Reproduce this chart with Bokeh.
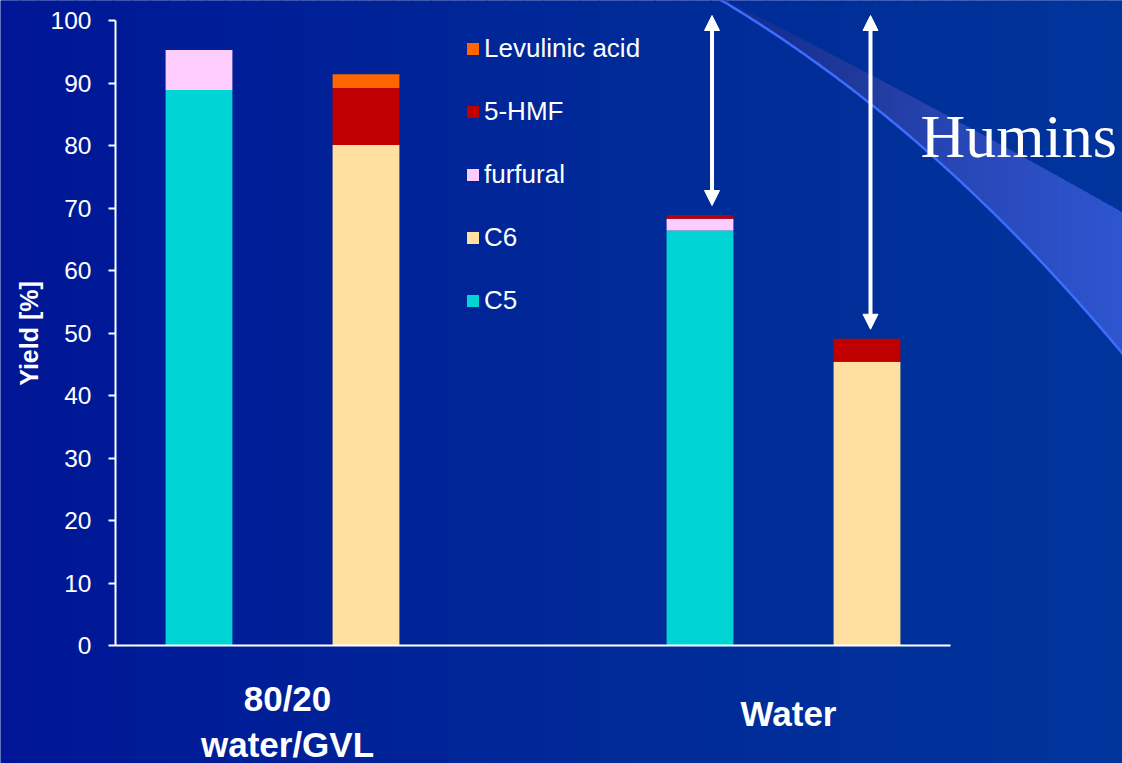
import numpy as np
from bokeh.plotting import figure
from bokeh.models import (Range1d, FixedTicker, Legend, LegendItem, Arrow,
                          NormalHead, ColumnDataSource)
from bokeh.core.properties import value
from bokeh.embed import file_html
from bokeh.resources import INLINE

# Yields [%] of each fraction; one bar per sugar fraction and solvent
bar_names = ["80/20 water/GVL C5", "80/20 water/GVL C6", "Water C5", "Water C6"]
bar_x = [0.5, 1.5, 3.5, 4.5]
c5 = [88.9, 0.0, 66.4, 0.0]
c6 = [0.0, 80.1, 0.0, 45.4]
furfural = [6.4, 0.0, 1.9, 0.0]
hmf = [0.0, 9.1, 0.6, 3.7]
levulinic = [0.0, 2.2, 0.0, 0.0]

series = ["C5", "C6", "furfural", "5-HMF", "Levulinic acid"]
colors = ["#00D4D4", "#FFE0A0", "#FFCCFF", "#C00000", "#FF6600"]

groups = ["80/20\nwater/GVL", "Water"]
group_x = [1.0, 4.0]
y_ticks = list(range(0, 101, 10))

# Humins arrows (water runs): drawn from the 100 % line down to the bar top
humins_x = [3.572, 4.521]

# ---- canvas <-> data mapping (frame fills the whole page) ----
W, H = 1122, 763
X0, XS = 115.0, 167.0     # px of x=0, px per category unit
Y0, YS = 645.0, 6.25      # px of y=0, px per percent


def dx(px):
    return (np.asarray(px, dtype=float) - X0) / XS


def dy(py):
    return (Y0 - np.asarray(py, dtype=float)) / YS


def hexcol(c):
    return "#%02x%02x%02x" % tuple(int(round(v)) for v in c)


def interp_color(t, stops_t, stops_c):
    arr = np.array(stops_c, dtype=float)
    return hexcol([np.interp(t, stops_t, arr[:, k]) for k in range(3)])


p = figure(width=W, height=H, x_range=Range1d(float(dx(0)), float(dx(W))),
           y_range=Range1d(float(dy(H)), float(dy(0))),
           output_backend="svg", toolbar_location=None, min_border=0,
           title=None)
p.outline_line_color = None
p.grid.visible = False
p.background_fill_color = "#00259a"
p.border_fill_color = "#00259a"

# ---- slide background: horizontal blue gradient ----
n = 60
edges = np.linspace(0, W, n + 1)
mids = (edges[:-1] + edges[1:]) / 2
bg_cols = [interp_color(m, [0, W * 0.55, W], [(0x00, 0x16, 0x96), (0x00, 0x2a, 0x98), (0x00, 0x34, 0x9b)]) for m in mids]
p.quad(left=dx(edges[:-1]), right=dx(edges[1:] + 1), top=float(dy(-2)), bottom=float(dy(H + 2)),
       fill_color=bg_cols, line_color=None)

# ---- decorative swoosh ----
lo_pts = np.array([(721, 0), (813, 60), (870, 103), (958, 180), (1010, 230),
                   (1060, 280), (1093, 320), (1122, 353), (1140, 375)], dtype=float)
up_pts = np.array([(725, 0), (842, 60), (867, 72), (1063, 180), (1122, 212), (1140, 222)], dtype=float)
lo_fit = np.polyfit(lo_pts[:, 0], lo_pts[:, 1], 3)
up_fit = np.polyfit(up_pts[:, 0], up_pts[:, 1], 2)

sx = np.linspace(700, 1124, 70)
band_xs, band_ys, band_cols = [], [], []
for a, b in zip(sx[:-1], sx[1:]):
    ya_u, yb_u = np.polyval(up_fit, [a, b])
    ya_l, yb_l = np.polyval(lo_fit, [a, b])
    ya_u, yb_u = min(ya_u, ya_l), min(yb_u, yb_l)
    band_xs.append(list(dx([a, b + 0.8, b + 0.8, a])))
    band_ys.append(list(dy([ya_u, yb_u, yb_l, ya_l])))
    band_cols.append(interp_color((a + b) / 2, [700, 850, 960, 1122],
                                  [(0x0c, 0x28, 0x92), (0x1f, 0x38, 0x9a), (0x28, 0x47, 0xb6), (0x2e, 0x55, 0xd0)]))
p.patches(xs=band_xs, ys=band_ys, fill_color=band_cols, line_color=None)

cx = np.linspace(718, 1130, 200)
p.line(x=dx(cx), y=dy(np.polyval(lo_fit, cx)), line_color="#3d6dff", line_width=2.5)

# ---- stacked bars ----
src = ColumnDataSource(dict(x=bar_x, name=bar_names, **dict(zip(series, [c5, c6, furfural, hmf, levulinic]))))
rs = p.vbar_stack(series, x="x", width=0.4, fill_color=colors, line_color=None, source=src)

# ---- axes ----
yax = p.yaxis[0]
yax.fixed_location = 0
yax.bounds = (0, 100)
yax.ticker = FixedTicker(ticks=y_ticks)
yax.axis_line_color = "white"
yax.axis_line_width = 2
yax.major_tick_line_color = "white"
yax.major_tick_line_width = 2
yax.major_tick_out = 7
yax.major_tick_in = 0
yax.minor_tick_line_color = None
yax.major_label_text_color = "white"
yax.major_label_text_font = "Liberation Sans"
yax.major_label_text_font_size = "24.5px"
yax.major_label_standoff = 17

xax = p.xaxis[0]
xax.fixed_location = 0
xax.bounds = (0, 5)
xax.ticker = FixedTicker(ticks=[])
xax.axis_line_color = "white"
xax.axis_line_width = 2
xax.major_tick_line_color = None
xax.minor_tick_line_color = None
xax.major_label_text_font_size = "0px"

# category labels under the axis
label_y = [float(dy(721)), float(dy(713))]
p.text(x=group_x, y=label_y, text=groups, x_offset=5, text_align="center",
       text_baseline="middle", text_font=value("Liberation Sans"), text_font_style="bold",
       text_font_size="35px", text_color="white", text_line_height=1.16)

# y axis title
p.text(x=[float(dx(28))], y=[float(dy(333))], text=["Yield [%]"], angle=np.pi / 2,
       text_align="center", text_baseline="middle", text_font=value("Liberation Sans"),
       text_font_style="bold", text_font_size="25px", text_color="white")

# ---- humins arrows ----
totals = [sum(v) for v in zip(c5, c6, furfural, hmf, levulinic)]
for xa, tot in zip(humins_x, totals[2:]):
    p.add_layout(Arrow(
        start=NormalHead(size=15, fill_color="white", line_color="white", line_width=1),
        end=NormalHead(size=15, fill_color="white", line_color="white", line_width=1),
        x_start=xa, y_start=tot + 1.5, x_end=xa, y_end=100.8,
        line_color="white", line_width=4))

p.text(x=[float(dx(920))], y=[float(dy(135))], text=["Humins"], text_align="left",
       text_baseline="alphabetic", text_font=value("Liberation Serif"),
       text_font_size="62px", text_color="white")

# ---- legend ----
items = [LegendItem(label=s, renderers=[r]) for s, r in reversed(list(zip(series, rs)))]
legend = Legend(items=items, location=(465, 447), orientation="vertical",
                glyph_width=15, glyph_height=15, label_standoff=4, spacing=32,
                padding=0, margin=0, border_line_color=None, background_fill_alpha=0,
                label_text_color="white", label_text_font="Liberation Sans",
                label_text_font_size="26px")
p.add_layout(legend)

open("out.html", "w").write(file_html(p, INLINE))
